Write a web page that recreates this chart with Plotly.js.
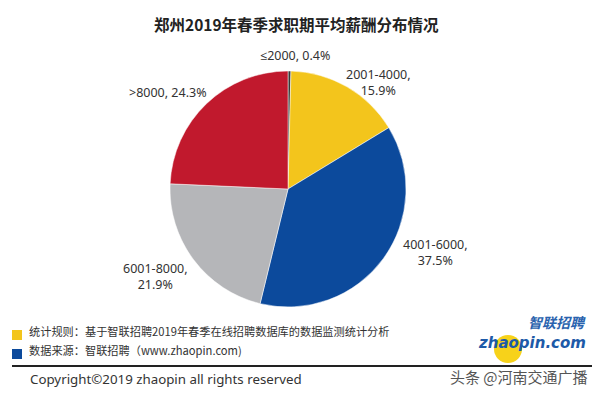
<!DOCTYPE html>
<html>
<head>
<meta charset="utf-8">
<script src="https://cdn.plot.ly/plotly-3.0.1.min.js"></script>
<style>html,body{margin:0;padding:0;background:#fff;}#chart{width:600px;height:394px;}</style>
</head>
<body>
<div id="chart"></div>
<script>
// ---- data ----
const categories = ["≤2000", "2001-4000", "4001-6000", "6001-8000", ">8000"];
const values = [0.4, 15.9, 37.5, 21.9, 24.3];
const colors = ["#3a3a3a", "#F3C51C", "#0C4A9C", "#B5B6B9", "#C1192D"];
const titleText = "郑州2019年春季求职期平均薪酬分布情况";
const noteRule = "统计规则：基于智联招聘2019年春季在线招聘数据库的数据监测统计分析";
const noteSource = "数据来源：智联招聘（www.zhaopin.com)";
const copyrightText = "Copyright©2019 zhaopin all rights reserved";
const watermarkText = "头条 @河南交通广播";

// ---- label placement (layout only) ----
const W = 600, H = 394;
const labelPos = [
  {x: 295, y: 55, twoLine: false},
  {x: 378, y: 82, twoLine: true},
  {x: 435, y: 252, twoLine: true},
  {x: 155, y: 276, twoLine: true},
  {x: 168, y: 92, twoLine: false}
];
const px = x => x / W;
const py = y => 1 - y / H;

const cx = 288, cy = 189, r = 118;

const trace = {
  type: "pie",
  labels: categories,
  values: values,
  sort: false,
  direction: "clockwise",
  rotation: 0,
  textinfo: "none",
  hoverinfo: "label+percent",
  marker: {colors: colors, line: {color: "#ffffff", width: 0.5}},
  domain: {x: [px(cx - r), px(cx + r)], y: [py(cy + r), py(cy - r)]},
  showlegend: false
};

const labelFont = {family: "'Noto Sans', 'Open Sans', sans-serif", size: 12.5, color: "#333333"};
const annotations = categories.map((c, i) => ({
  xref: "paper", yref: "paper",
  x: px(labelPos[i].x), y: py(labelPos[i].y),
  xanchor: "center", yanchor: "middle",
  text: labelPos[i].twoLine ? (c + ",<br>" + values[i].toFixed(1) + "%") : (c + ", " + values[i].toFixed(1) + "%"),
  showarrow: false, font: labelFont, align: "center"
}));

const cjk = "'Noto Sans CJK SC', sans-serif";
annotations.push(
  {xref: "paper", yref: "paper", x: px(296), y: py(24), xanchor: "center", yanchor: "middle",
   text: "<b>" + titleText + "</b>", showarrow: false, font: {family: cjk, size: 15.5, color: "#222222"}},
  {xref: "paper", yref: "paper", x: px(27), y: py(331), xanchor: "left", yanchor: "middle",
   text: noteRule, showarrow: false, font: {family: cjk, size: 11.2, color: "#333333"}},
  {xref: "paper", yref: "paper", x: px(27), y: py(350), xanchor: "left", yanchor: "middle",
   text: noteSource, showarrow: false, font: {family: cjk, size: 11.2, color: "#333333"}},
  {xref: "paper", yref: "paper", x: px(28), y: py(379), xanchor: "left", yanchor: "middle",
   text: copyrightText, showarrow: false, font: {family: "'Noto Sans', sans-serif", size: 13.3, color: "#333333"}},
  {xref: "paper", yref: "paper", x: px(590), y: py(376), xanchor: "right", yanchor: "middle",
   text: watermarkText, showarrow: false, font: {family: cjk, size: 15, color: "#555555"}},
  {xref: "paper", yref: "paper", x: px(588), y: py(322), xanchor: "right", yanchor: "middle",
   text: "<b><i>智联招聘</i></b>", showarrow: false, font: {family: cjk, size: 14, color: "#2a63ae"}},
  {xref: "paper", yref: "paper", x: px(588), y: py(343), xanchor: "right", yanchor: "middle",
   text: "<b><i>zhaopin.com</i></b>", showarrow: false, font: {family: "'DejaVu Sans', sans-serif", size: 15, color: "#1d5aa8"}}
);

const shapes = [
  {type: "rect", xref: "paper", yref: "paper", x0: px(12), x1: px(22), y0: py(340), y1: py(330), fillcolor: "#F3C51C", line: {width: 0}},
  {type: "rect", xref: "paper", yref: "paper", x0: px(12), x1: px(22), y0: py(359), y1: py(349), fillcolor: "#0C4A9C", line: {width: 0}},
  {type: "circle", xref: "paper", yref: "paper", x0: px(494), x1: px(522), y0: py(363), y1: py(335), fillcolor: "#F7D21A", line: {width: 0}, layer: "below"},
  {type: "line", xref: "paper", yref: "paper", x0: px(12), x1: px(592), y0: py(366), y1: py(366), line: {color: "#222222", width: 2}}
];

const layout = {
  width: W, height: H,
  margin: {l: 0, r: 0, t: 0, b: 0},
  paper_bgcolor: "#ffffff",
  plot_bgcolor: "#ffffff",
  annotations: annotations,
  shapes: shapes,
  showlegend: false
};

Plotly.newPlot("chart", [trace], layout, {displayModeBar: false, staticPlot: true});
</script>
</body>
</html>
